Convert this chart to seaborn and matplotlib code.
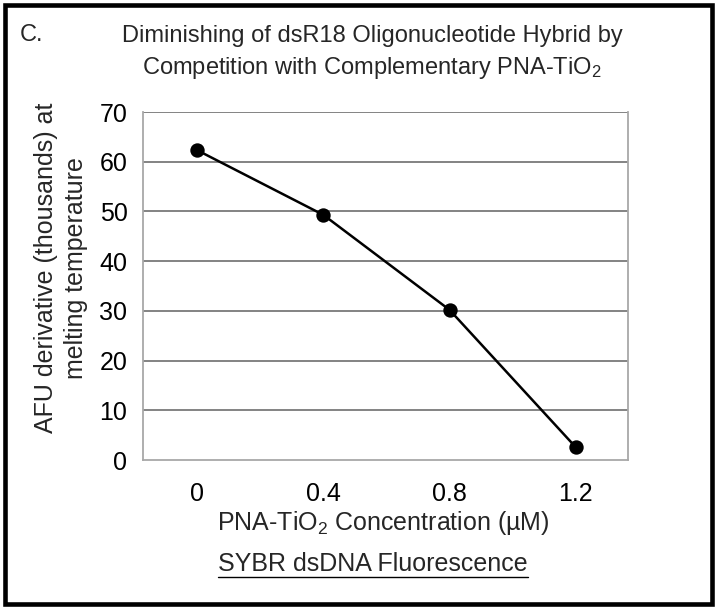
import matplotlib
matplotlib.use("Agg")
import matplotlib.pyplot as plt
import seaborn as sns
import pandas as pd
from matplotlib.patches import Rectangle
from matplotlib.lines import Line2D

conc_labels = ["0", "0.4", "0.8", "1.2"]
afu_values = [62.3, 49.3, 30.2, 2.6]
y_ticks = [0, 10, 20, 30, 40, 50, 60, 70]

title_text = "Diminishing of dsR18 Oligonucleotide Hybrid by\nCompetition with Complementary PNA-TiO$_2$"
panel_label = "C."
x_label = "PNA-TiO$_2$ Concentration (\u00b5M)"
y_label = "AFU derivative (thousands) at\nmelting temperature"
footer = "SYBR dsDNA Fluorescence"

sns.set_theme(style="white")
plt.rcParams["font.family"] = ["Liberation Sans", "DejaVu Sans"]
plt.rcParams["mathtext.fontset"] = "custom"
plt.rcParams["mathtext.rm"] = "Liberation Sans"
plt.rcParams["mathtext.it"] = "Liberation Sans"

W, H = 719, 611
fig = plt.figure(figsize=(W / 100, H / 100), dpi=100)
fig.patch.set_facecolor("white")

L, R, T, B = 142.7, 627.7, 112, 460
ax = fig.add_axes([L / W, 1 - B / H, (R - L) / W, (B - T) / H])

df = pd.DataFrame({"conc": conc_labels, "afu": afu_values})
sns.pointplot(data=df, x="conc", y="afu", order=conc_labels, color="black",
              markers="o", markersize=9, linewidth=1.8, ax=ax, zorder=5)

ax.set_xlim(-0.433, 3.413)
ax.set_ylim(0, 70)
ax.set_yticks(y_ticks)
ax.set_yticklabels([str(v) for v in y_ticks])
for v in y_ticks[1:]:
    ax.axhline(v, color="#7a7a7a", lw=1.3, zorder=1)
for s in ax.spines.values():
    s.set_color("#a8a8a8")
    s.set_linewidth(1.3)
ax.spines["top"].set_visible(False)
ax.tick_params(axis="both", length=0, labelsize=18, colors="black")
ax.tick_params(axis="y", pad=11)
ax.tick_params(axis="x", pad=16)
ax.set_xlabel("")
ax.set_ylabel("")

fig.text(372 / W, 1 - 53 / H, title_text, ha="center", va="center",
         fontsize=17, linespacing=1.42)
fig.text(20 / W, 1 - 35 / H, panel_label, ha="left", va="center", fontsize=17)
fig.text(383 / W, 1 - 523 / H, x_label, ha="center", va="center", fontsize=18)
fig.text(61 / W, 1 - 268 / H, y_label, ha="center", va="center", fontsize=18,
         rotation=90, linespacing=1.28, multialignment="center")
ft = fig.text(373 / W, 1 - 564 / H, footer, ha="center", va="center", fontsize=18)

fig.canvas.draw()
bb = ft.get_window_extent(fig.canvas.get_renderer())
uy = bb.y0 - 1
fig.add_artist(Line2D([bb.x0 / W, bb.x1 / W], [uy / H, uy / H], color="black", lw=1.0,
                      transform=fig.transFigure))

fig.add_artist(Rectangle((5 / W, 1 - 604 / H), (712 - 5) / W, (604 - 5) / H,
                         transform=fig.transFigure, fill=False, edgecolor="black", lw=3.3))

fig.savefig("out.png", dpi=100)
